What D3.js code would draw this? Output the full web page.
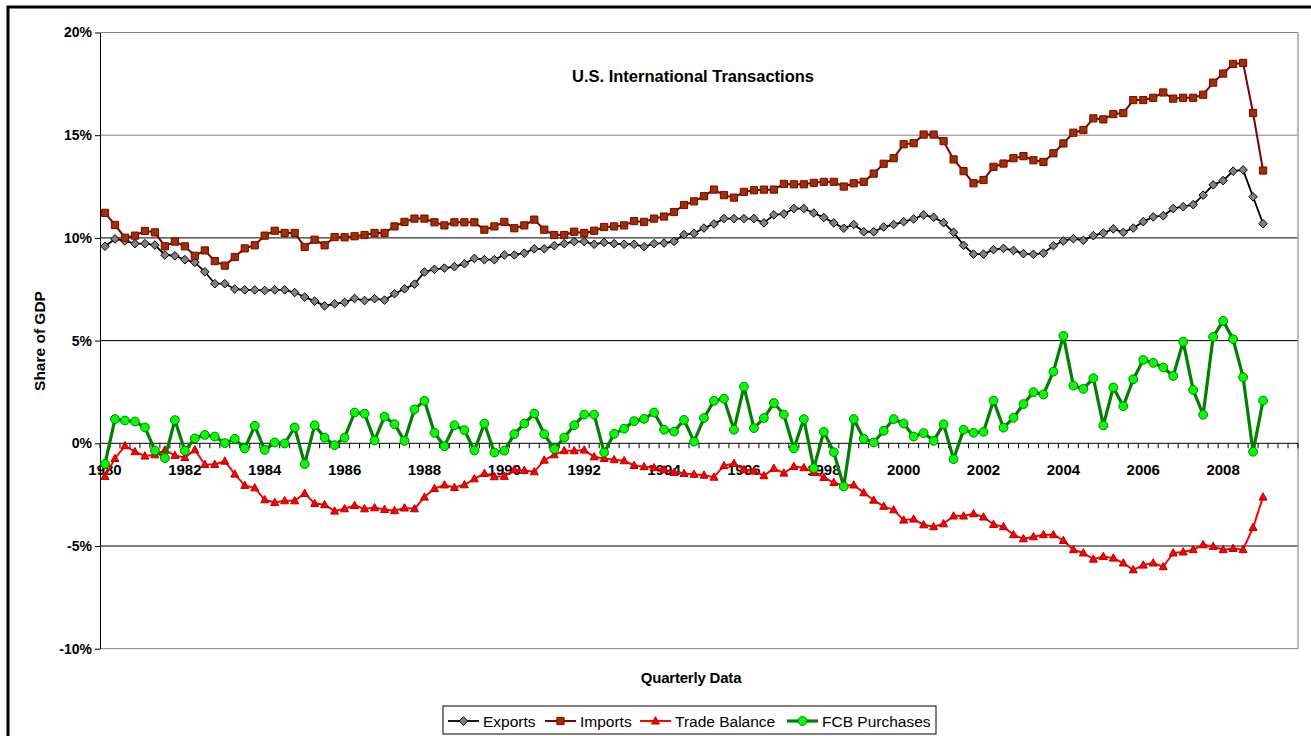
<!DOCTYPE html>
<html>
<head>
<meta charset="utf-8">
<script src="https://cdn.jsdelivr.net/npm/d3@7"></script>
<style>
body { margin: 0; background: #fff; }
svg { display: block; font-family: "Liberation Sans", Arial, sans-serif; }
</style>
</head>
<body>
<svg id="chart" width="1311" height="736"></svg>
<script>
// categories: one per quarter, 1980Q1 .. 2009Q4 (data stops at 2009Q1)
const years = d3.range(1980, 2010)
const quarters = years.flatMap(y => [1, 2, 3, 4].map(q => y + "Q" + q))
const tickYears = ["1980","1982","1984","1986","1988","1990","1992","1994","1996","1998","2000","2002","2004","2006","2008"]
const yTicks = [-10, -5, 0, 5, 10, 15, 20]

// share of GDP, %
const exportsShare = [
	9.59, 9.95, 9.85, 9.72, 9.72, 9.65, 9.17, 9.13, 8.94, 8.81,
	8.35, 7.77, 7.77, 7.51, 7.47, 7.47, 7.44, 7.47, 7.47, 7.34,
	7.12, 6.92, 6.69, 6.79, 6.86, 7.05, 6.95, 7.04, 6.97, 7.28,
	7.52, 7.75, 8.34, 8.47, 8.53, 8.60, 8.74, 9.00, 8.94, 8.94,
	9.17, 9.17, 9.26, 9.47, 9.47, 9.62, 9.72, 9.82, 9.82, 9.69,
	9.78, 9.72, 9.69, 9.69, 9.57, 9.72, 9.75, 9.83, 10.16, 10.22,
	10.48, 10.68, 10.94, 10.94, 10.94, 10.94, 10.73, 11.12, 11.17, 11.43,
	11.43, 11.21, 10.99, 10.73, 10.47, 10.65, 10.30, 10.30, 10.53, 10.65,
	10.79, 10.92, 11.12, 11.00, 10.74, 10.27, 9.64, 9.21, 9.21, 9.43,
	9.49, 9.39, 9.23, 9.20, 9.26, 9.62, 9.85, 9.96, 9.88, 10.11,
	10.24, 10.44, 10.27, 10.48, 10.79, 11.02, 11.08, 11.43, 11.52, 11.62,
	12.08, 12.58, 12.79, 13.25, 13.31, 12.00, 10.69
]
const importsShare = [
	11.22, 10.63, 10.01, 10.11, 10.34, 10.27, 9.59, 9.82, 9.59, 9.13,
	9.39, 8.87, 8.65, 9.07, 9.49, 9.64, 10.11, 10.35, 10.24, 10.24,
	9.56, 9.91, 9.64, 10.04, 10.03, 10.08, 10.14, 10.24, 10.24, 10.56,
	10.78, 10.94, 10.94, 10.76, 10.61, 10.76, 10.76, 10.76, 10.40, 10.56,
	10.78, 10.47, 10.61, 10.89, 10.40, 10.14, 10.14, 10.30, 10.24, 10.35,
	10.53, 10.56, 10.61, 10.82, 10.78, 10.94, 11.04, 11.26, 11.60, 11.78,
	12.03, 12.35, 12.08, 11.96, 12.24, 12.32, 12.35, 12.35, 12.63, 12.61,
	12.61, 12.68, 12.73, 12.73, 12.50, 12.66, 12.73, 13.13, 13.61, 13.88,
	14.56, 14.61, 15.03, 15.03, 14.71, 13.82, 13.25, 12.66, 12.82, 13.46,
	13.62, 13.88, 13.98, 13.78, 13.70, 14.12, 14.60, 15.12, 15.25, 15.82,
	15.77, 16.03, 16.08, 16.71, 16.71, 16.82, 17.08, 16.78, 16.82, 16.82,
	16.97, 17.56, 18.00, 18.47, 18.52, 16.08, 13.28
]
const tradeBalance = [
	-1.61, -0.74, -0.12, -0.41, -0.62, -0.56, -0.33, -0.59, -0.69, -0.32,
	-1.03, -1.03, -0.87, -1.50, -2.05, -2.17, -2.75, -2.88, -2.80, -2.80,
	-2.44, -2.93, -2.99, -3.30, -3.19, -3.03, -3.19, -3.14, -3.22, -3.28,
	-3.15, -3.19, -2.62, -2.20, -2.03, -2.15, -2.02, -1.73, -1.47, -1.63,
	-1.61, -1.29, -1.32, -1.39, -0.82, -0.56, -0.36, -0.36, -0.33, -0.66,
	-0.74, -0.80, -0.85, -1.08, -1.14, -1.19, -1.29, -1.42, -1.47, -1.51,
	-1.55, -1.65, -1.09, -0.98, -1.28, -1.35, -1.58, -1.22, -1.45, -1.13,
	-1.19, -1.42, -1.66, -1.91, -2.05, -2.03, -2.41, -2.77, -3.07, -3.24,
	-3.74, -3.69, -3.97, -4.06, -3.92, -3.54, -3.54, -3.43, -3.59, -3.95,
	-4.06, -4.45, -4.65, -4.55, -4.45, -4.45, -4.73, -5.18, -5.34, -5.64,
	-5.51, -5.59, -5.83, -6.16, -5.93, -5.83, -6.01, -5.34, -5.29, -5.18,
	-4.94, -5.02, -5.18, -5.12, -5.18, -4.10, -2.62
]
const fcbPurchases = [
	-1.00, 1.18, 1.11, 1.06, 0.77, -0.35, -0.72, 1.13, -0.36, 0.24,
	0.41, 0.33, 0.01, 0.22, -0.25, 0.85, -0.32, 0.04, -0.01, 0.77,
	-1.01, 0.88, 0.28, -0.09, 0.28, 1.50, 1.44, 0.14, 1.30, 0.93,
	0.12, 1.65, 2.07, 0.51, -0.14, 0.88, 0.64, -0.35, 0.96, -0.45,
	-0.36, 0.45, 0.96, 1.45, 0.45, -0.28, 0.28, 0.88, 1.40, 1.40,
	-0.45, 0.46, 0.71, 1.08, 1.19, 1.50, 0.66, 0.57, 1.14, 0.08,
	1.23, 2.07, 2.17, 0.66, 2.76, 0.74, 1.23, 1.96, 1.40, -0.25,
	1.18, -1.21, 0.56, -0.43, -2.10, 1.18, 0.22, 0.04, 0.61, 1.18,
	0.96, 0.33, 0.50, 0.12, 0.93, -0.77, 0.66, 0.51, 0.56, 2.08,
	0.76, 1.24, 1.91, 2.49, 2.38, 3.49, 5.23, 2.81, 2.65, 3.17,
	0.87, 2.72, 1.81, 3.12, 4.06, 3.92, 3.69, 3.28, 4.95, 2.60,
	1.39, 5.18, 5.96, 5.07, 3.22, -0.41, 2.08
]

const svg = d3.select('#chart')
const plotLeft = 100, plotRight = 1298, plotTop = 32.5, plotBottom = 648.7

// outer frame (runs off the right / bottom edge like the original)
svg.append("rect")
	.attr("x", 8).attr("y", 7)
	.attr("width", 1340).attr("height", 760)
	.attr("fill", "#fff")
	.attr("stroke", "#000")
	.attr("stroke-width", 3)

const xScale = d3.scaleBand()
	.domain(quarters)
	.range([plotLeft, plotRight])
const bw = xScale.bandwidth()
const xc = q => xScale(q) + bw / 2

const yScale = d3.scaleLinear()
	.domain([-10, 20])
	.range([plotBottom, plotTop])

// gridlines
svg.append("g")
	.selectAll("line")
	.data(yTicks.filter(d => d != 0))
	.join("line")
		.attr("x1", plotLeft).attr("x2", plotRight)
		.attr("y1", d => yScale(d)).attr("y2", d => yScale(d))
		.attr("stroke", d => (d == 20 || d == 15 || d == -10) ? "#808080" : "#000")
		.attr("stroke-width", 1)

// right edge of plot area
svg.append("line")
	.attr("x1", plotRight).attr("x2", plotRight)
	.attr("y1", plotTop).attr("y2", plotBottom)
	.attr("stroke", "#a0a0a0")
	.attr("stroke-width", 1.5)

// Y axis
const yAxisG = svg.append("g")
	.attr("transform", "translate(" + plotLeft + ",0)")
	.call(d3.axisLeft(yScale).tickValues(yTicks).tickSize(5).tickSizeOuter(0).tickPadding(3).tickFormat(d => d + "%"))
yAxisG.select(".domain").attr("stroke", "#000")
yAxisG.selectAll(".tick line").attr("stroke", "#000")
yAxisG.selectAll("text")
	.attr("font-size", 14)
	.attr("font-weight", "bold")
	.attr("font-family", "Liberation Sans, Arial, sans-serif")
	.attr("fill", "#000")

// X axis sits on 0%
const y0 = yScale(0)
const xAxisG = svg.append("g")
	.attr("transform", "translate(0," + y0 + ")")
	.call(d3.axisBottom(xScale)
		.tickValues(tickYears.map(y => y + "Q1"))
		.tickFormat(q => q.slice(0, 4))
		.tickSize(0)
		.tickPadding(21))
xAxisG.select(".domain").remove()
xAxisG.selectAll("text")
	.attr("font-size", 15)
	.attr("font-weight", "bold")
	.attr("font-family", "Liberation Sans, Arial, sans-serif")
	.attr("fill", "#000")

svg.append("g")
	.selectAll("line")
	.data(d3.range(quarters.length + 1))
	.join("line")
		.attr("x1", k => plotLeft + k * bw).attr("x2", k => plotLeft + k * bw)
		.attr("y1", y0).attr("y2", y0 + 5)
		.attr("stroke", "#000")
svg.append("line")
	.attr("x1", plotLeft).attr("x2", plotRight)
	.attr("y1", y0).attr("y2", y0)
	.attr("stroke", "#000")

// series
const diamond = "M0,-4.3L4.3,0L0,4.3L-4.3,0Z"
const square = "M-3.6,-3.6H3.6V3.6H-3.6Z"
const triangle = "M0,-4.3L4,3H-4Z"

const series = [
	{ name: "Exports", values: exportsShare, line: "#000", width: 1.8, fill: "#808080", stroke: "#000", shape: diamond },
	{ name: "Imports", values: importsShare, line: "#800000", width: 2, fill: "#993300", stroke: "#800000", shape: square },
	{ name: "Trade Balance", values: tradeBalance, line: "#ff0000", width: 2, fill: "#ff0000", stroke: "#b00000", shape: triangle },
	{ name: "FCB Purchases", values: fcbPurchases, line: "#008000", width: 3.2, fill: "#00ff00", stroke: "#008000", shape: "circle" }
]

const line = d3.line()
	.x((d, i) => xc(quarters[i]))
	.y(d => yScale(d))

series.forEach(s => {
	svg.append("path")
		.datum(s.values)
		.attr("fill", "none")
		.attr("stroke", s.line)
		.attr("stroke-width", s.width)
		.attr("stroke-linejoin", "round")
		.attr("d", line)

	const g = svg.append("g")
	if (s.shape == "circle") {
		g.selectAll("circle")
			.data(s.values)
			.join("circle")
				.attr("cx", (d, i) => xc(quarters[i]))
				.attr("cy", d => yScale(d))
				.attr("r", 4.4)
				.attr("fill", s.fill)
				.attr("stroke", s.stroke)
				.attr("stroke-width", 1)
	} else {
		g.selectAll("path")
			.data(s.values)
			.join("path")
				.attr("transform", (d, i) => "translate(" + xc(quarters[i]) + "," + yScale(d) + ")")
				.attr("d", s.shape)
				.attr("fill", s.fill)
				.attr("stroke", s.stroke)
				.attr("stroke-width", 1)
	}
})

// titles
svg.append("text")
	.attr("x", 693).attr("y", 82)
	.attr("text-anchor", "middle")
	.attr("font-size", 16.5)
	.attr("font-weight", "bold")
	.text("U.S. International Transactions")

svg.append("text")
	.attr("transform", "translate(45,341) rotate(-90)")
	.attr("text-anchor", "middle")
	.attr("font-size", 15.5)
	.attr("font-weight", "bold")
	.text("Share of GDP")

svg.append("text")
	.attr("x", 691).attr("y", 683)
	.attr("text-anchor", "middle")
	.attr("font-size", 15)
	.attr("font-weight", "bold")
	.attr("letter-spacing", -0.2)
	.text("Quarterly Data")

// legend
const legend = svg.append("g")
legend.append("rect")
	.attr("x", 443).attr("y", 706)
	.attr("width", 493).attr("height", 28)
	.attr("fill", "#fff")
	.attr("stroke", "#000")

const legendX = [448, 545, 640, 787]
series.forEach((s, i) => {
	const lx = legendX[i], ly = 721
	legend.append("line")
		.attr("x1", lx).attr("x2", lx + 31)
		.attr("y1", ly).attr("y2", ly)
		.attr("stroke", s.line)
		.attr("stroke-width", s.width)
	if (s.shape == "circle") {
		legend.append("circle")
			.attr("cx", lx + 15.5).attr("cy", ly).attr("r", 4.4)
			.attr("fill", s.fill).attr("stroke", s.stroke)
	} else {
		legend.append("path")
			.attr("transform", "translate(" + (lx + 15.5) + "," + ly + ")")
			.attr("d", s.shape)
			.attr("fill", s.fill).attr("stroke", s.stroke)
	}
	legend.append("text")
		.attr("x", lx + 35).attr("y", 727)
		.attr("font-size", 15.5)
		.text(s.name)
})
</script>
</body>
</html>
